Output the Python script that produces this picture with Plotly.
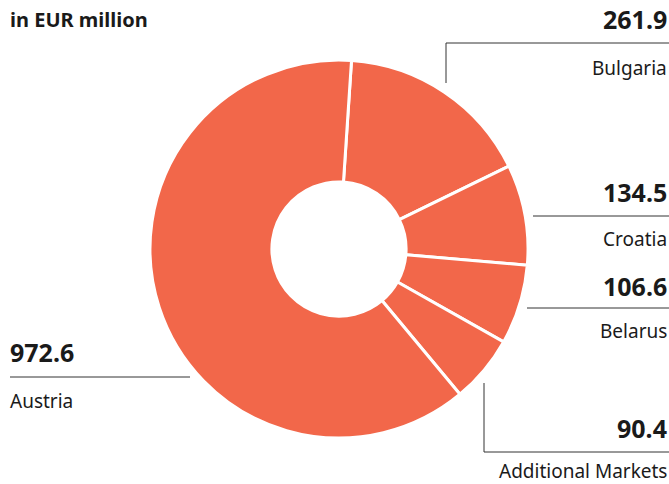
import plotly.graph_objects as go

countries = ["Bulgaria", "Croatia", "Belarus", "Additional Markets", "Austria"]
values = [261.9, 134.5, 106.6, 90.4, 972.6]
value_labels = ["261.9", "134.5", "106.6", "90.4", "972.6"]

W, H = 669, 484
def px(x): return x / W
def py(y): return 1 - y / H

SLICE = "#F2674A"
TXT = "#1a1a1a"
LINE = "#333333"
FONT = "Noto Sans"

fig = go.Figure(go.Pie(
    labels=countries, values=values, sort=False, direction="clockwise",
    rotation=3.8, hole=0.355,
    marker=dict(colors=[SLICE] * 5, line=dict(color="white", width=3)),
    textinfo="none", hoverinfo="label+value", showlegend=False,
    domain=dict(x=[px(150), px(528)], y=[py(438), py(60)]),
))

ann = []
def add(text, x, y, anchor, bold=False, size=17):
    ann.append(dict(text=f"<b>{text}</b>" if bold else text, x=px(x), y=py(y),
                    xref="paper", yref="paper", xanchor=anchor, yanchor="middle",
                    showarrow=False, font=dict(family=FONT, size=size, color=TXT)))

add("in EUR million", 8, 20, "left", bold=True, size=20)
layout_pos = {
    "Bulgaria": (19, 68),
    "Croatia": (192, 239),
    "Belarus": (286, 331),
    "Additional Markets": (428, 471),
}
for c, v in zip(countries, value_labels):
    if c in layout_pos:
        vy, ly = layout_pos[c]
        add(v, 669, vy, "right", bold=True, size=25)
        add(c, 669, ly, "right", size=19)
add(value_labels[4], 8, 352, "left", bold=True, size=25)
add(countries[4], 8, 401, "left", size=19)

shapes = []
def seg(x0, y0, x1, y1):
    shapes.append(dict(type="line", xref="paper", yref="paper",
                       x0=px(x0), y0=py(y0), x1=px(x1), y1=py(y1),
                       line=dict(color=LINE, width=1)))

seg(446, 43, 669, 43); seg(446, 43, 446, 83)
seg(533, 216, 669, 216)
seg(527, 308, 669, 308)
seg(484, 452, 669, 452); seg(484, 383, 484, 452)
seg(10, 377, 190, 377)

fig.update_layout(width=W, height=H, margin=dict(l=0, r=0, t=0, b=0),
                  paper_bgcolor="white", plot_bgcolor="white",
                  annotations=ann, shapes=shapes)
fig.write_html("out.html", config={"displayModeBar": False},
               post_script="document.body.style.margin='0';document.body.style.overflow='hidden';")
